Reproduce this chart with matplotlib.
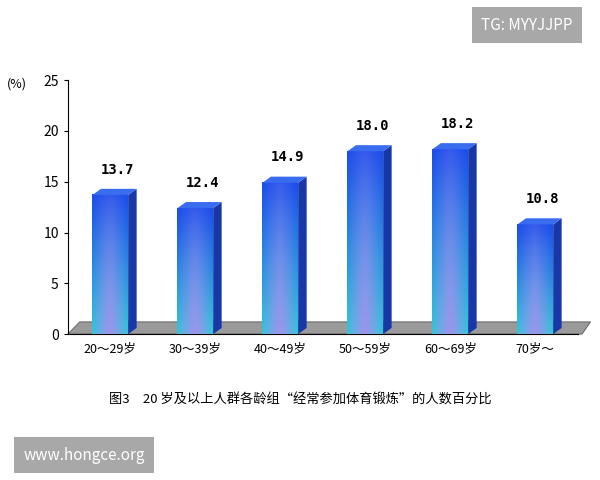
import numpy as np
import matplotlib
matplotlib.use("Agg")
import matplotlib.pyplot as plt
from matplotlib.patches import Polygon

plt.rcParams['font.family'] = ['Noto Sans CJK SC', 'DejaVu Sans']

groups = ["20～29岁", "30～39岁", "40～49岁", "50～59岁", "60～69岁", "70岁～"]
values = [13.7, 12.4, 14.9, 18.0, 18.2, 10.8]
labels = ["13.7", "12.4", "14.9", "18.0", "18.2", "10.8"]

fig = plt.figure(figsize=(6, 4.8), dpi=100)
ax = fig.add_axes([0.113, 0.304, 0.85, 0.529])
ax.set_xlim(-0.5, 5.5)
ax.set_ylim(0, 25)
ax.set_yticks(range(0, 26, 5))
ax.set_xticks(range(len(groups)))
ax.set_xticklabels(groups, fontsize=9)
ax.tick_params(axis='y', labelsize=10, length=3)
ax.tick_params(axis='x', length=0, pad=6)
for s in ['top', 'right']:
    ax.spines[s].set_visible(False)
ax.text(-1.1, 24.6, "(%)", fontsize=9, ha='center', va='center', clip_on=False)

# floor
fl = Polygon([(-0.5, 0), (5.55, 0), (5.65, 1.2), (-0.36, 1.2)],
             closed=True, fc='#9a9a9a', ec='#555555', lw=0.6, zorder=1, clip_on=False)
ax.add_patch(fl)

# gradient image for bar fronts
h, w = 100, 40
xx = np.linspace(-1, 1, w)[None, :]
yy = np.linspace(0, 1, h)[:, None]  # 0 bottom,1 top
edge = np.abs(xx) ** 1.3
top = np.array([0.10, 0.30, 0.92])
bot = np.array([0.20, 0.78, 0.85])
center = np.array([0.66, 0.56, 0.94])
base = bot * (1 - yy[..., None]) + top * yy[..., None]
mix = (1 - edge)[..., None] * (0.9 - 0.7 * yy[..., None])
img = base * (1 - mix) + center * mix
img = np.clip(img, 0, 1)

bw = 0.42
dx, dy = 0.1, 0.6
for i, v in enumerate(values):
    x0 = i - bw / 2
    x1 = i + bw / 2
    ax.imshow(img, extent=[x0, x1, 0, v], origin='lower', aspect='auto', zorder=3)
    # side
    ax.add_patch(Polygon([(x1, 0), (x1 + dx, dy), (x1 + dx, v + dy), (x1, v)],
                         fc='#1838a8', ec='none', zorder=3))
    # top
    ax.add_patch(Polygon([(x0, v), (x0 + dx, v + dy), (x1 + dx, v + dy), (x1, v)],
                         fc='#3a6cf0', ec='none', zorder=3))
    ax.text(i + 0.08, v + 1.8, labels[i], ha='center', va='bottom', fontsize=10,
            family='DejaVu Sans Mono', fontweight='bold')

ax.set_xlim(-0.5, 5.5)
ax.set_ylim(0, 25)

fig.text(0.5, 1 - 400 / 480, "图3　20 岁及以上人群各龄组“经常参加体育锻炼”的人数百分比",
         ha='center', va='center', fontsize=9.5)
fig.text(0.878, 1 - 25 / 480, "TG: MYYJJPP", ha='center', va='center', fontsize=11,
         color='white', bbox=dict(boxstyle='square,pad=0.6', fc='#a8a8a8', ec='none'))
fig.text(0.14, 1 - 455 / 480, "www.hongce.org", ha='center', va='center', fontsize=11,
         color='white', bbox=dict(boxstyle='square,pad=0.6', fc='#a8a8a8', ec='none'))

fig.savefig("out.png", dpi=100)
